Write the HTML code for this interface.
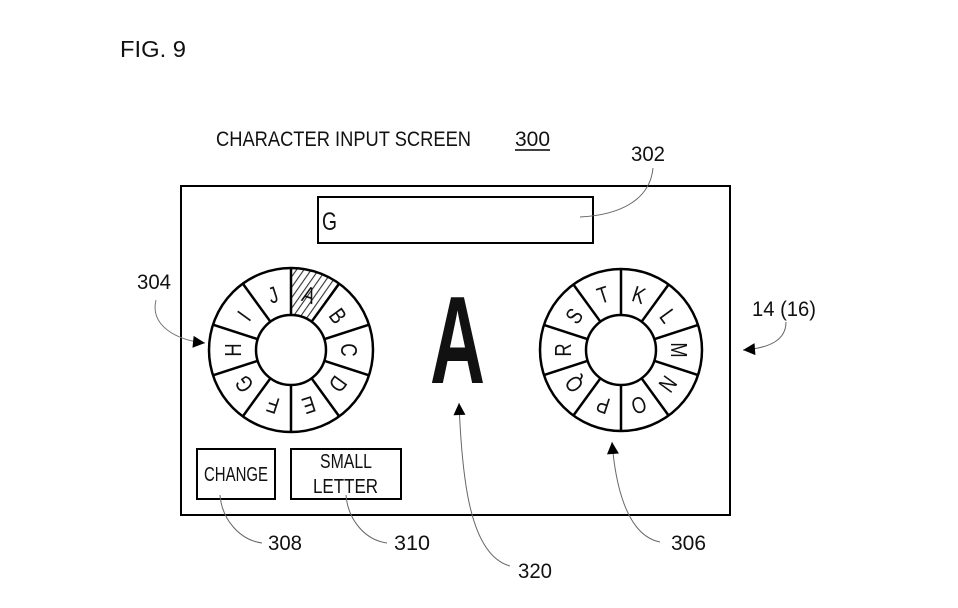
<!DOCTYPE html>
<html><head><meta charset="utf-8"><style>
html,body{margin:0;padding:0;background:#fff;}
svg{display:block;}
text{font-family:"Liberation Sans",sans-serif;fill:#111;}
</style></head><body>
<svg width="958" height="608" viewBox="0 0 958 608" xmlns="http://www.w3.org/2000/svg">
<defs>
<pattern id="h" patternUnits="userSpaceOnUse" width="6" height="6" patternTransform="rotate(35)">
<rect width="6" height="6" fill="#fff"/><line x1="0" y1="0" x2="0" y2="6" stroke="#333" stroke-width="2.2"/>
</pattern>
<marker id="ar" viewBox="0 0 10 10" refX="10" refY="5" markerWidth="17" markerHeight="12" markerUnits="userSpaceOnUse" orient="auto"><path d="M0,0 L10,5 L0,10 Z" fill="#000"/></marker>
</defs>
<text x="120" y="57" font-size="23" textLength="66" lengthAdjust="spacingAndGlyphs">FIG. 9</text>
<text x="216" y="146" font-size="21" textLength="255" lengthAdjust="spacingAndGlyphs">CHARACTER INPUT SCREEN</text>
<text x="515" y="146" font-size="21" textLength="35" lengthAdjust="spacingAndGlyphs">300</text>
<line x1="515" y1="150" x2="550" y2="150" stroke="#000" stroke-width="1.5"/>
<text x="631" y="161" font-size="21" textLength="34" lengthAdjust="spacingAndGlyphs">302</text>
<text x="137" y="289" font-size="21" textLength="34" lengthAdjust="spacingAndGlyphs">304</text>
<text x="752" y="316" font-size="21" textLength="64" lengthAdjust="spacingAndGlyphs">14 (16)</text>
<text x="268" y="550" font-size="21" textLength="34" lengthAdjust="spacingAndGlyphs">308</text>
<text x="394" y="550" font-size="21" textLength="36" lengthAdjust="spacingAndGlyphs">310</text>
<text x="518" y="578" font-size="21" textLength="34" lengthAdjust="spacingAndGlyphs">320</text>
<text x="671" y="550" font-size="21" textLength="35" lengthAdjust="spacingAndGlyphs">306</text>

<rect x="181" y="186" width="549" height="329" fill="none" stroke="#000" stroke-width="2"/>
<rect x="318" y="197" width="275" height="46" fill="none" stroke="#000" stroke-width="2"/>
<text x="322" y="230" font-size="25" textLength="15" lengthAdjust="spacingAndGlyphs">G</text>
<rect x="197" y="449" width="78" height="50" fill="none" stroke="#000" stroke-width="2"/>
<text x="204" y="481" font-size="20" textLength="64" lengthAdjust="spacingAndGlyphs">CHANGE</text>
<rect x="291" y="449" width="110" height="50" fill="none" stroke="#000" stroke-width="2"/>
<text x="320" y="468" font-size="20" textLength="52" lengthAdjust="spacingAndGlyphs">SMALL</text>
<text x="313" y="493" font-size="20" textLength="65" lengthAdjust="spacingAndGlyphs">LETTER</text>
<text x="430" y="383" font-size="124" font-weight="bold" textLength="55" lengthAdjust="spacingAndGlyphs">A</text>

<!-- left wheel -->
<g transform="translate(291 350)" stroke="#000" stroke-width="2.5" fill="none">
<path d="M0,-82 A82,82 0 0 1 48.2,-66.3 L20.6,-28.3 A35,35 0 0 0 0,-35 Z" fill="url(#h)" stroke="none"/>
<circle r="82"/><circle r="35" fill="#fff"/>
<g><line x1="0" y1="-35" x2="0" y2="-82"/><line x1="0" y1="-35" x2="0" y2="-82" transform="rotate(36)"/><line x1="0" y1="-35" x2="0" y2="-82" transform="rotate(72)"/><line x1="0" y1="-35" x2="0" y2="-82" transform="rotate(108)"/><line x1="0" y1="-35" x2="0" y2="-82" transform="rotate(144)"/><line x1="0" y1="-35" x2="0" y2="-82" transform="rotate(180)"/><line x1="0" y1="-35" x2="0" y2="-82" transform="rotate(216)"/><line x1="0" y1="-35" x2="0" y2="-82" transform="rotate(252)"/><line x1="0" y1="-35" x2="0" y2="-82" transform="rotate(288)"/><line x1="0" y1="-35" x2="0" y2="-82" transform="rotate(324)"/></g>
<g stroke="none" font-size="23" text-anchor="middle">
<text transform="rotate(18) translate(0 -50) scale(0.8 1)">A</text>
<text transform="rotate(54) translate(0 -50) scale(0.8 1)">B</text>
<text transform="rotate(90) translate(0 -50) scale(0.8 1)">C</text>
<text transform="rotate(126) translate(0 -50) scale(0.8 1)">D</text>
<text transform="rotate(162) translate(0 -50) scale(0.8 1)">E</text>
<text transform="rotate(198) translate(0 -50) scale(0.8 1)">F</text>
<text transform="rotate(234) translate(0 -50) scale(0.8 1)">G</text>
<text transform="rotate(270) translate(0 -50) scale(0.8 1)">H</text>
<text transform="rotate(306) translate(0 -50) scale(0.8 1)">I</text>
<text transform="rotate(342) translate(0 -50) scale(0.8 1)">J</text>
</g>
</g>

<!-- right wheel -->
<g transform="translate(621 350)" stroke="#000" stroke-width="2.5" fill="none">
<circle r="81"/><circle r="35" fill="#fff"/>
<g><line x1="0" y1="-35" x2="0" y2="-81"/><line x1="0" y1="-35" x2="0" y2="-81" transform="rotate(36)"/><line x1="0" y1="-35" x2="0" y2="-81" transform="rotate(72)"/><line x1="0" y1="-35" x2="0" y2="-81" transform="rotate(108)"/><line x1="0" y1="-35" x2="0" y2="-81" transform="rotate(144)"/><line x1="0" y1="-35" x2="0" y2="-81" transform="rotate(180)"/><line x1="0" y1="-35" x2="0" y2="-81" transform="rotate(216)"/><line x1="0" y1="-35" x2="0" y2="-81" transform="rotate(252)"/><line x1="0" y1="-35" x2="0" y2="-81" transform="rotate(288)"/><line x1="0" y1="-35" x2="0" y2="-81" transform="rotate(324)"/></g>
<g stroke="none" font-size="23" text-anchor="middle">
<text transform="rotate(18) translate(0 -50) scale(0.8 1)">K</text>
<text transform="rotate(54) translate(0 -50) scale(0.8 1)">L</text>
<text transform="rotate(90) translate(0 -50) scale(0.8 1)">M</text>
<text transform="rotate(126) translate(0 -50) scale(0.8 1)">N</text>
<text transform="rotate(162) translate(0 -50) scale(0.8 1)">O</text>
<text transform="rotate(198) translate(0 -50) scale(0.8 1)">P</text>
<text transform="rotate(234) translate(0 -50) scale(0.8 1)">Q</text>
<text transform="rotate(270) translate(0 -50) scale(0.8 1)">R</text>
<text transform="rotate(306) translate(0 -50) scale(0.8 1)">S</text>
<text transform="rotate(342) translate(0 -50) scale(0.8 1)">T</text>
</g>
</g>

<!-- leaders -->
<g fill="none" stroke="#666" stroke-width="1">
<path d="M653,168 C650,200 620,215 580,217"/>
<path d="M156,300 C150,325 175,340 205,343" marker-end="url(#ar)" stroke="#777"/>
<path d="M786,322 C786,340 770,348 743,350" marker-end="url(#ar)"/>
<path d="M510,566 C470,555 462,480 459,403" marker-end="url(#ar)"/>
<path d="M660,542 C625,535 615,480 612,442" marker-end="url(#ar)"/>
<path d="M220,495 C222,520 240,540 262,543"/>
<path d="M346,495 C348,520 365,540 387,543"/>
</g>
</svg>
</body></html>
